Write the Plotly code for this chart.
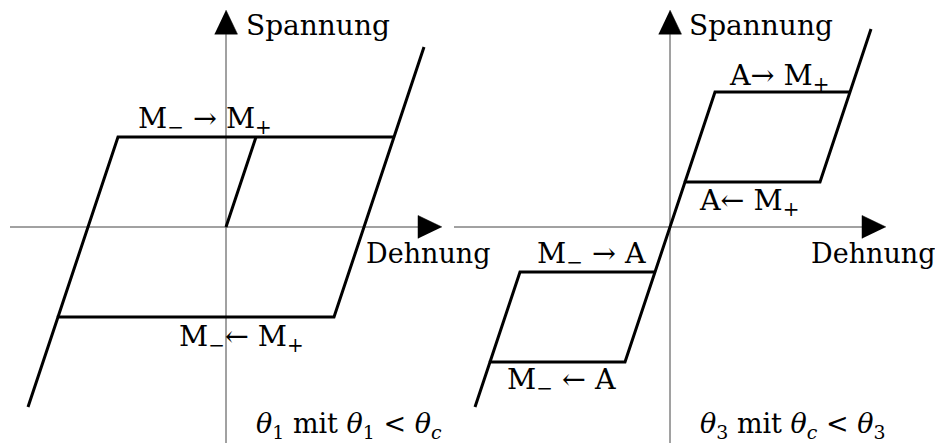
import plotly.graph_objects as go

# Hysterese-Kurven (Einheiten: x ~ Dehnung, y ~ Spannung)
links_x = [-6.6, -5.6, 3.6, 5.6, 6.6, None, -5.6, -3.6, 5.6, None, 0, 1]
links_y = [-2, -1, -1, 1, 2, None, -1, 1, 1, None, 0, 1]

rechts_x = [-6.5, -6, -1.5, -0.5, 0.5, 5, 6, 6.7, None, -6, -5, -0.5, None, 0.5, 1.5, 6]
rechts_y = [-2, -1.5, -1.5, -0.5, 0.5, 0.5, 1.5, 2.2, None, -1.5, -0.5, -0.5, None, 0.5, 1.5, 1.5]

# Achsen (Ende = Pfeilspitze)
achse_x = [-7.2, 7.2]
achse_y = [-2.4, 2.41]
pfeil_lang_x, pfeil_halb_x = 0.8, 0.128
pfeil_lang_y, pfeil_halb_y = 0.267, 0.383

# (Text, x, y, Anker, Schriftgroesse)
labels_links = [
    ("M<sub>−</sub> → M<sub>+</sub>", -0.7, 1.18, "center", 28.5),
    ("M<sub>−</sub>← M<sub>+</sub>", 0.5, -1.24, "center", 28.5),
    ("Spannung", 0.6, 2.244, "left", 28),
    ("Dehnung", 4.6, -0.29, "left", 27),
    ("<i>θ</i><sub>1</sub> mit <i>θ</i><sub>1</sub> &lt; <i>θ</i><sub><i>c</i></sub>", 4.1, -2.2, "center", 27),
]
labels_rechts = [
    ("A→ M<sub>+</sub>", 3.63, 1.656, "center", 28.5),
    ("A← M<sub>+</sub>", 2.63, 0.267, "center", 28.5),
    ("M<sub>−</sub> → A", -2.63, -0.322, "center", 28.5),
    ("M<sub>−</sub> ← A", -3.63, -1.72, "center", 28.5),
    ("Spannung", 0.57, 2.244, "left", 28),
    ("Dehnung", 4.63, -0.29, "left", 27),
    ("<i>θ</i><sub>3</sub> mit <i>θ</i><sub><i>c</i></sub> &lt; <i>θ</i><sub>3</sub>", 4.1, -2.2, "center", 27),
]

FONT = "DejaVu Serif"
# Seite hat 8px Rand -> Figur etwas kleiner
W, H = 935, 438
PX_X, PX_Y = 30, 90          # Pixel pro Einheit
ORIG_L, ORIG_R, ORIG_Y = 218, 662, 219
DOM_L, DOM_R = [0, 0.5], [0.44, 1]


def xrange_for(dom, orig):
    return [(dom[0] * W - orig) / PX_X, (dom[1] * W - orig) / PX_X]


yrange = [-(H - ORIG_Y) / PX_Y, ORIG_Y / PX_Y]

fig = go.Figure()


def panel(xs, ys, xa, ya, labels):
    ax = dict(xaxis=xa, yaxis=ya)
    # Achsenlinien
    fig.add_trace(go.Scatter(x=[achse_x[0], achse_x[1] - pfeil_lang_x], y=[0, 0], mode="lines",
                             line=dict(color="#444", width=1), **ax))
    fig.add_trace(go.Scatter(x=[0, 0], y=[achse_y[0], achse_y[1] - pfeil_lang_y], mode="lines",
                             line=dict(color="#444", width=1), **ax))
    # Pfeilspitzen
    fig.add_trace(go.Scatter(x=[achse_x[1], achse_x[1] - pfeil_lang_x, achse_x[1] - pfeil_lang_x],
                             y=[0, pfeil_halb_x, -pfeil_halb_x], fill="toself", fillcolor="black",
                             mode="lines", line=dict(color="black", width=0.5), **ax))
    fig.add_trace(go.Scatter(x=[0, pfeil_halb_y, -pfeil_halb_y],
                             y=[achse_y[1], achse_y[1] - pfeil_lang_y, achse_y[1] - pfeil_lang_y],
                             fill="toself", fillcolor="black",
                             mode="lines", line=dict(color="black", width=0.5), **ax))
    # Kurve
    fig.add_trace(go.Scatter(x=xs, y=ys, mode="lines", line=dict(color="black", width=3), **ax))
    for text, x, y, anchor, size in labels:
        fig.add_annotation(text=text, x=x, y=y, xref=xa, yref=ya, xanchor=anchor, yanchor="middle",
                           showarrow=False, font=dict(family=FONT, size=size, color="black"))


panel(links_x, links_y, "x", "y", labels_links)
panel(rechts_x, rechts_y, "x2", "y2", labels_rechts)

hidden = dict(visible=False, showgrid=False, zeroline=False, fixedrange=True)
fig.update_layout(
    width=W, height=H, margin=dict(l=0, r=0, t=0, b=0),
    paper_bgcolor="white", plot_bgcolor="rgba(0,0,0,0)", showlegend=False,
    xaxis=dict(domain=DOM_L, range=xrange_for(DOM_L, ORIG_L), **hidden),
    yaxis=dict(domain=[0, 1], range=yrange, **hidden),
    xaxis2=dict(domain=DOM_R, range=xrange_for(DOM_R, ORIG_R), anchor="y2", **hidden),
    yaxis2=dict(domain=[0, 1], range=yrange, anchor="x2", **hidden),
)

fig.write_html("out.html")
